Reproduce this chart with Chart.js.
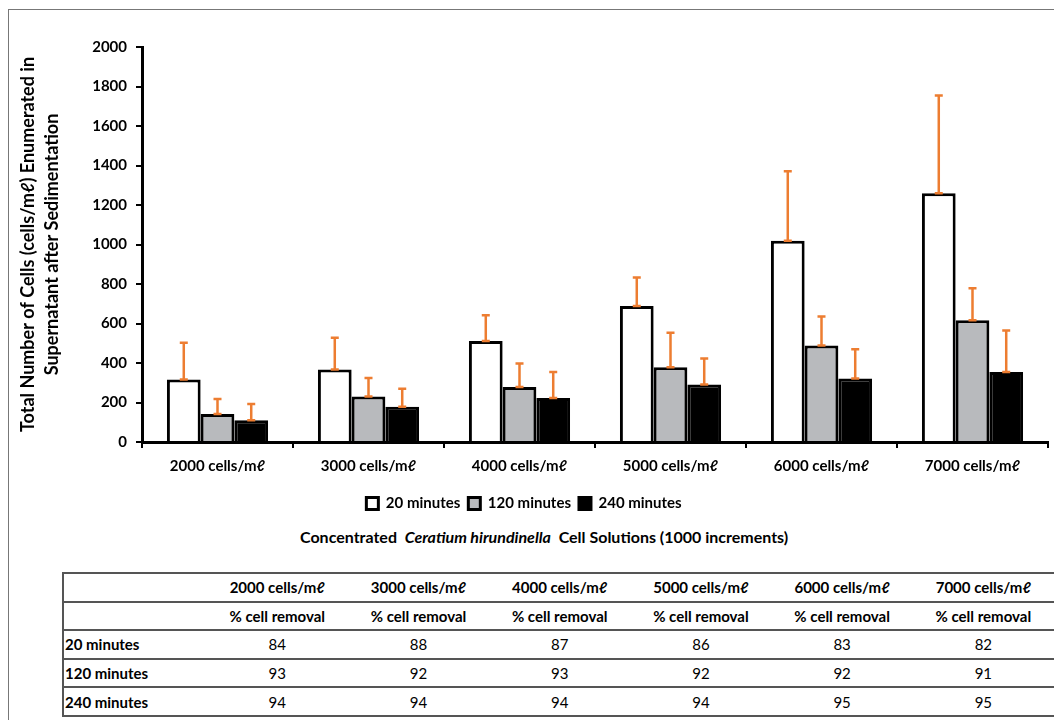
<!DOCTYPE html>
<html>
<head>
<meta charset="utf-8">
<script src="https://cdn.jsdelivr.net/npm/chart.js@4.4.1/dist/chart.umd.min.js"></script>
<style>
  html, body { margin: 0; padding: 0; background: #fff; overflow: hidden; }
  #wrap { position: relative; width: 1054px; height: 720px; overflow: hidden; font-family: Lato, "DejaVu Sans", sans-serif; color: #000; }
  #frame { position: absolute; left: 8px; top: 9px; right: -4px; bottom: -4px; border-left: 1.5px solid #777; border-top: 1.5px solid #777; }
  #chartBox { position: absolute; left: 0; top: 0; width: 1054px; height: 521px; }
  #xtitle { position: absolute; left: 300px; top: 527px; font-size: 16px; font-weight: bold; white-space: nowrap; }
  #tbl { position: absolute; left: 62px; top: 572px; border-collapse: collapse; border-left: 2px solid #555; font-size: 15px; }
  #tbl td { height: 26.6px; padding: 0; border-top: 2px solid #555; border-bottom: 2px solid #555; text-align: center; width: 143px; white-space: nowrap; }
  #tbl td.lab { width: 144px; text-align: left; font-weight: bold; padding-left: 1px; }
  #tbl tr.hd td { font-weight: bold; }
</style>
</head>
<body>
<div id="wrap">
  <div id="frame"></div>
  <div id="chartBox"><canvas id="chart"></canvas></div>
  <div id="xtitle">Concentrated&nbsp; <i>Ceratium hirundinella</i>&nbsp; Cell Solutions (1000 increments)</div>
  <table id="tbl"></table>
</div>
<script>
// concentrations on the x axis
var categories = ['2000 cells/mℓ', '3000 cells/mℓ', '4000 cells/mℓ', '5000 cells/mℓ', '6000 cells/mℓ', '7000 cells/mℓ'];
var seriesNames = ['20 minutes', '120 minutes', '240 minutes'];

// cells/mℓ left in supernatant (bar heights)
var mean20  = [317, 367, 511, 689, 1019, 1259];
var mean120 = [142, 230, 278, 379, 489, 616];
var mean240 = [110, 178, 223, 291, 322, 355];

// upper error bars
var err20  = [185, 161, 131, 144, 352, 496];
var err120 = [76, 94, 120, 174, 146, 163];
var err240 = [83, 92, 132, 132, 148, 210];

// % cell removal table
var removal20  = [84, 88, 87, 86, 83, 82];
var removal120 = [93, 92, 93, 92, 92, 91];
var removal240 = [94, 94, 94, 94, 95, 95];

var yTicks = { min: 0, max: 2000, step: 200 };

var FONT = 'Lato, "DejaVu Sans", sans-serif';

// orange error bars drawn above each bar
var errorBars = {
	id: 'errorBars',
	afterDatasetsDraw: function ( chart ) {
		var ctx = chart.ctx;
		var y = chart.scales.y;
		ctx.save();
		ctx.strokeStyle = '#ED7D31';
		ctx.lineWidth = 2.5;
		chart.data.datasets.forEach( function ( ds, i ) {
			var meta = chart.getDatasetMeta( i );
			meta.data.forEach( function ( bar, j ) {
				var top = y.getPixelForValue( ds.data[j] );
				var end = y.getPixelForValue( ds.data[j] + ds.errors[j] );
				ctx.beginPath();
				ctx.moveTo( bar.x, top );
				ctx.lineTo( bar.x, end );
				ctx.moveTo( bar.x - 4, end );
				ctx.lineTo( bar.x + 4, end );
				ctx.moveTo( bar.x - 4, top );
				ctx.lineTo( bar.x + 4, top );
				ctx.stroke();
			} );
		} );
		ctx.restore();
	}
};

new Chart( document.getElementById( 'chart' ).getContext( '2d' ), {
	type: 'bar',
	data: {
		labels: categories,
		datasets: [
			{ label: seriesNames[0], data: mean20, errors: err20, backgroundColor: '#ffffff', borderColor: '#000', borderWidth: 3 },
			{ label: seriesNames[1], data: mean120, errors: err120, backgroundColor: '#b8babd', borderColor: '#000', borderWidth: 3 },
			{ label: seriesNames[2], data: mean240, errors: err240, backgroundColor: '#000000', borderColor: '#000', borderWidth: 3 }
		]
	},
	options: {
		responsive: true,
		maintainAspectRatio: false,
		animation: false,
		categoryPercentage: 0.67,
		barPercentage: 1,
		layout: { padding: { top: 47, right: 6, left: 0, bottom: 0 } },
		plugins: {
			tooltip: { enabled: false },
			legend: {
				position: 'bottom',
				labels: {
					boxWidth: 12,
					boxHeight: 12,
					padding: 8,
					color: '#000',
					font: { family: FONT, size: 15, weight: 'bold' }
				}
			}
		},
		scales: {
			x: {
				grid: { drawOnChartArea: false, offset: true, tickLength: 6, color: '#000', lineWidth: 2 },
				border: { color: '#000', width: 3 },
				ticks: { padding: 9, color: '#000', font: { family: FONT, size: 15, weight: 'bold' } },
				afterFit: function ( scale ) { scale.height = 46; }
			},
			y: {
				min: yTicks.min,
				max: yTicks.max,
				grid: { drawOnChartArea: false, tickLength: 6, color: '#000', lineWidth: 2 },
				border: { color: '#000', width: 3 },
				ticks: {
					stepSize: yTicks.step,
					padding: 9,
					color: '#000',
					font: { family: FONT, size: 15, weight: 'bold' },
					callback: function ( v ) { return String( v ); }
				},
				title: {
					display: true,
					text: [ 'Total Number of Cells (cells/mℓ) Enumerated in', 'Supernatant after Sedimentation' ],
					color: '#000',
					padding: { top: 16, bottom: 0 },
					font: { family: FONT, size: 18, weight: 'bold', lineHeight: 1.34 }
				},
				afterFit: function ( scale ) { scale.width = 142; }
			}
		}
	},
	plugins: [ errorBars ]
} );

// table under the chart
( function () {
	var tbl = document.getElementById( 'tbl' );
	var rows = [
		[ '', categories, 'hd' ],
		[ '', categories.map( function () { return '% cell removal'; } ), 'hd' ],
		[ seriesNames[0], removal20, '' ],
		[ seriesNames[1], removal120, '' ],
		[ seriesNames[2], removal240, '' ]
	];
	rows.forEach( function ( r ) {
		var tr = document.createElement( 'tr' );
		if ( r[2] ) { tr.className = r[2]; }
		var th = document.createElement( 'td' );
		th.className = 'lab';
		th.textContent = r[0];
		tr.appendChild( th );
		r[1].forEach( function ( v ) {
			var td = document.createElement( 'td' );
			td.textContent = v;
			tr.appendChild( td );
		} );
		tbl.appendChild( tr );
	} );
} )();
</script>
</body>
</html>
